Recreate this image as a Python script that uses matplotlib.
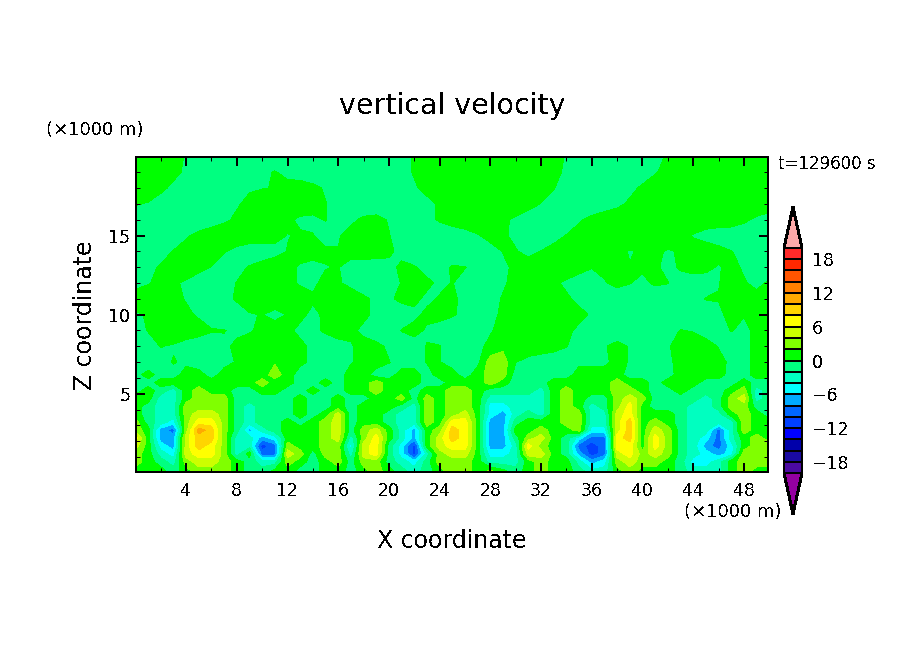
import numpy as np
import matplotlib
matplotlib.use('Agg')
import matplotlib.pyplot as plt
from matplotlib.ticker import MultipleLocator

plt.rcParams['text.antialiased'] = False
plt.rcParams['lines.antialiased'] = False
plt.rcParams['patch.antialiased'] = False

W, H = 904, 654

# contour levels and colours (below lowest first, above highest last)
levels = list(range(-20, 21, 2))
colors = ['#9400a0', '#4b0aa0', '#1a0aa0', '#0000aa', '#0000ff', '#0040ff', '#0066ff', '#00aaff',
          '#00ffff', '#00ffc0', '#00ff80', '#00ff00', '#80ff00', '#ccff00', '#ffff00', '#ffd500',
          '#ffaa00', '#ff8000', '#ff5500', '#ff2800', '#ff2a2a', '#ffaaaa']

x_km = list(range(0, 51))
z_km = [0.05, 0.7, 1.2, 1.7, 2.2, 2.7, 3.2, 3.7, 4.2, 4.7, 5.2, 5.7, 6.2, 7, 8, 9, 10,
        11, 12, 13, 14, 15, 16, 17, 18, 19, 19.95]

# vertical velocity, one row per z_km, one column per x_km
w = [
    [1, 1, 1, -1, 1, 3, 3, 3, 1, -1, -1, 1, 1, -1, -1, 1, 1, -1, 1, 3, 1, -1, -3, -1, 1, 3, 3, 1, 3, 1, -1, 1, 3, 1, 1, -1, -3, -3, 1, 3, 1, 1, 1, -1, -3, -3, -3, 1, 3, 1, 1],
    [3, 1, -1, -3, 3, 5, 5, 3, 1, -1, -3, -3, 3, 1, -1, 1, 3, -1, 3, 3, -1, -3, -5, -1, 3, 3, 3, 1, -3, -3, -3, 1, 3, 1, 1, -3, -7, -5, 3, 5, 3, 3, 1, -1, -5, -5, -3, 1, 3, 3, 3],
    [3, 1, -3, -5, 5, 7, 7, 3, -3, 1, -9, -9, 5, 3, -1, 3, 3, -3, 5, 7, -1, -5, -11, -3, 3, 5, 5, 1, -5, -5, -3, 5, 5, 1, -1, -7, -11, -9, 5, 7, 3, 5, 3, -1, -3, -5, -7, -5, 3, 3, 3],
    [5, 1, -5, -7, 5, 9, 7, 3, -3, -3, -11, -9, 3, 1, 1, 3, 3, -5, 5, 7, -1, -5, -11, 1, 5, 7, 7, 1, -7, -7, -3, 7, 3, 1, -1, -9, -11, -9, 7, 7, 1, 7, 3, -1, -3, -7, -9, -5, 1, 3, 3],
    [7, 1, -7, -7, 5, 9, 9, 3, -3, -3, -7, -5, 1, 1, 1, 3, 5, -3, 3, 7, 1, -3, -7, 1, 5, 9, 7, 1, -7, -7, -1, 3, 5, 1, -1, -5, -9, -9, 7, 9, 1, 7, 3, -1, -3, -5, -9, -3, 1, 3, 1],
    [3, 1, -7, -9, 3, 11, 9, 3, -1, -7, -3, -1, 1, 1, 1, 3, 5, -1, 3, 5, 1, -3, -7, 1, 3, 9, 7, 1, -7, -7, 1, 1, 3, 1, 1, 3, -5, -5, 5, 9, 1, 5, 3, -1, -3, -3, -9, -3, 3, 1, 1],
    [3, -1, -3, -5, 3, 7, 7, 3, -1, -3, -1, -1, 1, -1, 1, 3, 5, -1, 1, 1, -1, -3, -3, 3, 1, 7, 7, 1, -7, -7, -1, 1, 1, 1, 3, 3, -3, -3, 5, 9, 1, 3, 1, -1, -3, -3, -3, -3, 3, 1, 1],
    [1, -1, -3, -3, 3, 5, 5, 3, -1, -3, -1, -1, -1, 1, -1, 1, 5, -1, 1, 1, -1, -3, -3, 3, 1, 3, 5, 1, -5, -7, -3, -1, -3, 1, 3, 3, -3, -3, 5, 7, 1, 1, 1, -1, -3, -3, -3, 1, 3, 1, -1],
    [1, -1, -3, -3, 3, 3, 3, 3, -1, -3, -1, -1, -1, 1, -1, -1, 1, -1, 1, 1, 1, -1, -3, 3, 1, 3, 3, 1, -5, -5, -3, -3, -3, 1, 3, 1, -3, -1, 3, 7, 1, -1, -1, -1, -3, -3, -1, 3, 3, -1, -1],
    [1, 1, -3, -3, 1, 3, 3, 3, -1, -1, -1, -1, -1, 1, -1, -1, 1, -1, -1, 1, 1, 3, -1, 3, 1, 3, 3, 1, -3, -3, -3, -3, -3, 1, 3, 1, -1, -1, 3, 5, 3, -1, -1, -1, -1, -3, -1, 3, 5, -3, -1],
    [-1, 1, -1, -3, 1, 3, 1, 1, -1, -1, 1, 1, -1, -1, 1, -1, -1, 1, 1, 3, 1, 1, -1, 1, 1, 3, 3, 1, -1, -1, -1, -1, -3, 1, 3, 1, 1, 1, 3, 3, 1, -1, -1, 1, -1, -1, -1, 1, 3, -3, -1],
    [-1, -1, 1, 1, 1, 1, 1, 1, 1, 1, 3, 1, 1, -1, -1, 1, -1, 1, 1, 3, 1, 1, 1, -1, -1, 1, 1, 1, 3, 1, -1, -1, -1, 1, 1, 1, 1, 1, 3, 1, 1, -1, 1, 1, 1, -1, -1, -1, 1, -1, -1],
    [-1, 1, -1, -1, 1, 1, -1, 1, 1, 1, 1, 3, 1, -1, -1, -1, -1, 1, 1, -1, -1, 1, 1, -1, 1, 1, -1, 1, 3, 3, -1, -1, -1, -1, -1, 1, 1, 1, 1, -1, -1, -1, -1, 1, 1, 1, 1, -1, -1, 1, 1],
    [-1.8, -1.8, -1, .2, -.5, -1.5, -1.8, -.8, .2, 1.2,
     1.8, 1.8, 1.5, .5, -.5, -1.5, -1.2, -.2, .8, 1,
     .1, -1, -1, .1, .1, -1, -1.5, -.5, 3, 3,
     .1, -1, -1.8, -1.8, -1.5, -.5, -.5, -.5, .8, -.2,
     -1.2, -1.4, -.4, .6, 1.6, 1.6, .6, -.4, -.5, .5, 1.5],
    [-1.8, -1, .1, -.3, -1.3, -1.8, -1.5, -.5, .5, 1.5,
     1.8, 1.8, 1.5, .5, -.5, -1.5, -1.2, -.2, .8, .6,
     -.4, -1.4, -1, .1, .1, -1, -1.5, -.5, .5, 1.5,
     1.8, 1.8, 1.8, 1, .1, -1, -1.2, -.2, .8, -.2,
     -1.2, -1.2, -.2, .8, 1.8, .9, -.1, -1, -.5, .5, 1.5],
    [-.9, .1, 1.1, 1.8, 1.8, 1.2, .2, .1, -.5, -.3,
     .7, 1.5, .5, -.5, -.6, .4, 1.4, .5, -.5, -1.5,
     -.9, .1, .7, -.3, -1.3, -1.8, -1.8, -1.2, -.2, .8,
     1.8, 1.8, 1.8, 1.5, .5, -.5, -1.5, -1.8, -1.8, -1.8,
     -1.8, -1.8, -1, .1, -.2, -1, -1, .1, -.5, .5, 1.5],
    [-.6, .4, 1.4, 1.6, .6, -.4, -1.4, -1.8, -1.2, -.2,
     .1, -.9, .1, .5, -.5, .4, 1.4, 1.5, .5, -.5,
     -1.5, -1.5, -.5, .5, 1, .3, -.6, -1.6, -.6, .4,
     1.4, 1.8, 1.8, 1.8, 1.7, .7, -.3, -1.3, -1.8, -1.8,
     -1.8, -1.8, -1.8, -1.8, -1.8, -1.4, -.4, .6, .1, .7, 1.5],
    [1.8, 1.8, 1.8, .8, -.2, -1.2, -1.7, -.7, .3, 1.3,
     1.8, 1.8, 1.8, 1.3, .3, .4, 1.4, 1.5, .5, -.5,
     -.4, .6, .5, -.5, .2, .4, -.6, -1.6, -.8, .2,
     1.2, 1.8, 1.8, 1.4, .4, -.6, -1.6, -1.8, -1.8, -1.8,
     -1.8, -1.8, -1.8, -1.8, -1, .1, .1, .4, .1, .7, 1.5],
    [-1.2, -.2, .8, .5, -.5, -1.5, -1.8, -1, .1, 1,
     1.8, 1.7, .7, -.3, -.4, .6, .3, -.7, -1.7, -1.8,
     -.9, .1, 1.1, .5, -.5, .1, -1, -1.8, -1.3, -.3,
     .7, 1.7, 1.5, .5, -.5, -1.5, -1.2, -.2, .8, .1,
     -.6, .4, .1, -1, -1.8, -1.1, -.1, .9, .2, -.5, .3],
    [-1.7, -.7, .3, 1.3, 1.8, .9, -.1, -1.1, -.8, .2,
     1.2, 1.7, .7, -.3, -1.1, -.1, .1, -1, -1.8, -1.6,
     -.6, .4, .2, -.8, -.8, .2, .1, -1, -1.5, -.5,
     .5, 1.5, 1.8, 1.8, 1.8, 1.1, .1, .6, 1, .1,
     .4, .4, -.7, .3, 1.3, .6, -.2, .7, -.3, -1.3, -1.8],
    [-1.8, -1.8, -1, .1, 1, 1.8, 1.2, .2, -.8, -1.8,
     -1.8, -1, .1, 1, 1.4, .4, .1, 1, 1.8, 1.4,
     .4, -.6, -1.6, -1.8, -1.8, -1.8, -1.8, -1.8, -1, .1,
     .2, -.8, .1, 1, 1.8, 1.8, 1.8, 1.8, .8, -.2,
     .4, .6, -.3, .3, 1.3, 1.8, 1, .1, -1, -1.8, -1.8],
    [-1.8, -1.8, -1.8, -1.3, -.3, .7, 1.7, 1.8, 1.8, 1.8,
     1.8, 1, -.1, .3, .1, -1, -.2, .8, 1.8, 1,
     .1, -1, -1.8, -1.8, -1.8, -1.8, -1.2, -.2, .8, .4,
     -.6, -1.6, -1.8, -1, .1, 1, 1.8, 1.8, 1.8, 1.8,
     1.8, 1.8, 1.8, .8, -.2, -1.2, -1.8, -1.8, -1.8, -1.8, -1.8],
    [-1.8, -1.8, -1.8, -1.8, -1.8, -1.8, -1.5, -.5, .5, 1.5,
     1.8, 1.5, .5, -.5, -.5, .1, -1, -.5, .5, .8,
     -.2, -1.2, -1.7, -.7, .3, 1.3, 1.8, 1.8, 1.5, .5,
     -.5, -1.5, -1.8, -1.8, -1.3, -.3, .7, 1.7, 1.8, 1.8,
     1.8, 1.8, 1.8, 1.8, 1.8, 1.8, 1.8, 1.5, .5, -.5, -1.5],
    [.2, -.2, -1, -1.8, -1.8, -1.8, -1.8, -1.3, -.3, .7,
     1.7, 1.8, 1.8, 1.8, 1.1, .1, -.9, -1.8, -1.8, -1.8,
     -1.8, -1.8, -1.7, -.7, .3, 1.3, 1.8, 1.8, 1.8, 1.8,
     1.8, 1, -.1, -1, -1.8, -1.8, -1.8, -1.6, -.6, .4,
     1.4, 1.8, 1.8, 1.8, 1.8, 1.8, 1.8, 1.8, 1.8, 1.8, 1.8],
    [1.8, 1.5, .5, -.5, -1.5, -1.8, -1.8, -1.8, -1.3, -.3,
     -.1, .1, 1, 1.7, .7, -.3, -1.3, -1.8, -1.8, -1.8,
     -1.8, -1.3, -.3, .7, 1.7, 1.8, 1.8, 1.8, 1.8, 1.8,
     1.8, 1.8, 1, .1, -1, -1.8, -1.8, -1.8, -1.6, -.6,
     .4, 1.4, 1.8, 1.8, 1.8, 1.8, 1.8, 1.8, 1.8, 1.8, 1.8],
    [1.8, 1.8, 1.8, .6, -.4, -1.4, -1.8, -1.8, -1.8, -1.7,
     -.7, .2, -.8, -1.8, -1.8, -1.8, -1.8, -1.8, -1.8, -1.8,
     -1.8, -.8, .2, 1.2, 1.8, 1.8, 1.8, 1.8, 1.8, 1.8,
     1.8, 1.8, 1.6, .6, -.4, -1.4, -1.8, -1.8, -1.8, -1.8,
     -1.2, -.2, .8, 1.8, 1.8, 1.8, 1.8, 1.8, 1.8, 1.8, 1.8],
    [1.8, 1.8, 1.8, .8, -.2, -1.2, -1.8, -1.8, -1.8, -1.8,
     -1.8, -1.8, -1.8, -1.8, -1.8, -1.8, -1.8, -1.8, -1.8, -1.8,
     -1.8, -.8, .2, 1.2, 1.8, 1.8, 1.8, 1.8, 1.8, 1.8,
     1.8, 1.8, 1.8, .8, -.2, -1.2, -1.8, -1.8, -1.8, -1.8,
     -1.7, -.7, .3, 1.3, 1.8, 1.8, 1.8, 1.8, 1.8, 1.8, 1.8],
]

x_ticks = [4, 8, 12, 16, 20, 24, 28, 32, 36, 40, 44, 48]
z_ticks = [5, 10, 15]
cbar_ticks = [-18, -12, -6, 0, 6, 12, 18]


def fig_text(fig, px, py, s, **kw):
    """Place text using reference pixel coordinates"""
    fig.text(px / W, 1 - py / H, s, **kw)


fig = plt.figure(figsize=(W / 100, H / 100), dpi=100)
ax = fig.add_axes([136 / W, 1 - 472 / H, 632 / W, 315 / H])

cf = ax.contourf(x_km, z_km, np.array(w, dtype=float), levels=levels, colors=colors[1:-1],
                 extend='both', antialiased=False)
cf.cmap.set_under(colors[0])
cf.cmap.set_over(colors[-1])

ax.set_xlim(0.05, 49.9)
ax.set_ylim(0.05, 19.97)
ax.set_xticks(x_ticks)
ax.set_yticks(z_ticks)
ax.xaxis.set_minor_locator(MultipleLocator(2))
ax.yaxis.set_minor_locator(MultipleLocator(1))
ax.tick_params(which='major', direction='in', top=True, right=True, length=6.5, width=1.44,
               labelsize=12.5)
ax.tick_params(which='minor', direction='in', top=True, right=True, length=3, width=0.72)
ax.tick_params(axis='x', which='major', pad=7.5)
ax.tick_params(axis='y', which='major', pad=4)
for spine in ax.spines.values():
    spine.set_linewidth(1.44)

# colorbar with arrow ends, the axes spans the whole bar including the arrows
cax = fig.add_axes([784 / W, 1 - 514 / H, 18 / W, 307 / H])
cb = fig.colorbar(cf, cax=cax, extend='both', extendfrac=0.182, drawedges=True, ticks=cbar_ticks)
cb.ax.tick_params(length=0, labelsize=12.5, pad=7)
cb.outline.set_linewidth(1.44)
cb.dividers.set_linewidth(1.44)
cb.dividers.set_color('black')

fig_text(fig, 452, 105.5, 'vertical velocity', fontsize=20.5, ha='center', va='center')
fig_text(fig, 95, 130, '(×1000 m)', fontsize=13, ha='center', va='center')
fig_text(fig, 733, 512, '(×1000 m)', fontsize=13, ha='center', va='center')
fig_text(fig, 827, 164, 't=129600 s', fontsize=12, ha='center', va='center')
fig_text(fig, 452, 541, 'X coordinate', fontsize=17, ha='center', va='center')
fig_text(fig, 85, 315, 'Z coordinate', fontsize=17, ha='center', va='center', rotation=90)

fig.savefig('out.png', dpi=100)
